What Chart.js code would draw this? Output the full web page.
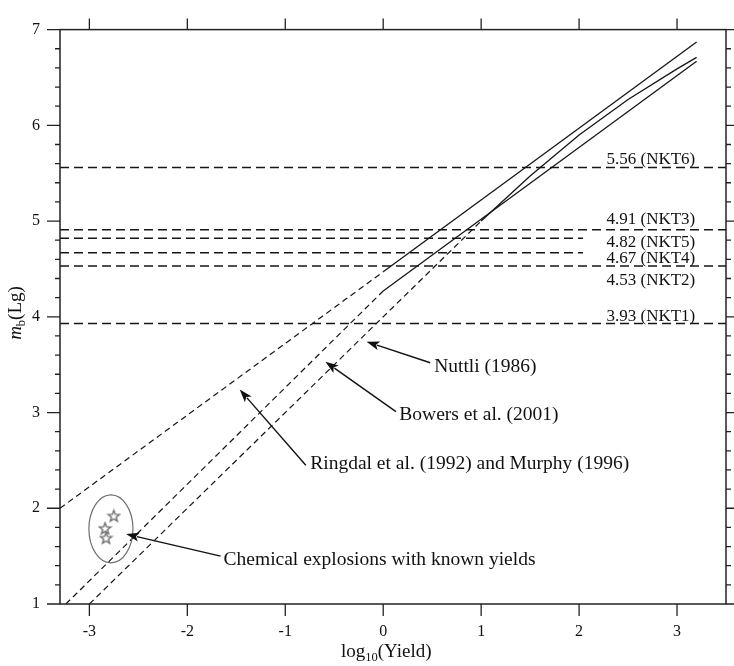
<!DOCTYPE html>
<html>
<head>
<meta charset="utf-8">
<script src="https://cdn.jsdelivr.net/npm/chart.js@4.4.0/dist/chart.umd.min.js"></script>
<style>
  html, body { margin: 0; padding: 0; background: #fff; }
</style>
</head>
<body>
<canvas id="yield-chart" width="734" height="666"></canvas>
<script>
// x = log10(Yield), y = mb(Lg)
var ringdalDashX = [-3.3, 0];
var ringdalDashY = [2.0, 4.47];
var ringdalX = [0, 3.2];
var ringdalY = [4.47, 6.87];

var bowersDashX = [-3.24, 0];
var bowersDashY = [1.0, 4.27];
var bowersX = [0, 3.2];
var bowersY = [4.27, 6.67];

var nuttliDashX = [-3.0, 1.0];
var nuttliDashY = [1.0, 5.0];
var nuttliX = [1.0, 1.5, 2.0, 2.5, 3.0, 3.2];
var nuttliY = [5.0, 5.47, 5.90, 6.27, 6.59, 6.71];

// NKT test magnitudes
var nktLevels = [5.56, 4.91, 4.82, 4.67, 4.53, 3.93];
var nktNames = ['NKT6', 'NKT3', 'NKT5', 'NKT4', 'NKT2', 'NKT1'];
var nktEnds = [3.5, 3.5, 2.04, 2.04, 3.5, 3.5];

// chemical explosions
var chemX = [-2.75, -2.84, -2.83];
var chemY = [1.92, 1.79, 1.69];

var xTicks = [-3, -2, -1, 0, 1, 2, 3];
var yTicks = [1, 2, 3, 4, 5, 6, 7];

// layout bits (not data)
var nktBaseShift = [-3.5, -6, 9, 10, 19, -3];
var notes = [
  {text: 'Nuttli (1986)', tail: [0.48, 3.52], tip: [-0.17, 3.74], at: [0.52, 3.48]},
  {text: 'Bowers et al. (2001)', tail: [0.13, 3.01], tip: [-0.59, 3.53], at: [0.165, 2.98]},
  {text: 'Ringdal et al. (1992) and Murphy (1996)', tail: [-0.79, 2.45], tip: [-1.465, 3.24], at: [-0.745, 2.46]},
  {text: 'Chemical explosions with known yields', tail: [-1.66, 1.50], tip: [-2.625, 1.73], at: [-1.63, 1.46]}
];

var serif = '"Liberation Serif", "Times New Roman", serif';

function pts(xs, ys) {
  return xs.map(function(x, i) { return {x: x, y: ys[i]}; });
}

function makeStar() {
  var c = document.createElement('canvas');
  c.width = 15; c.height = 15;
  var g = c.getContext('2d');
  g.strokeStyle = '#666';
  g.lineWidth = 1.3;
  g.beginPath();
  for (var k = 0; k < 10; k++) {
    var r = k % 2 === 0 ? 6 : 2.5;
    var a = -Math.PI / 2 + k * Math.PI / 5;
    var px = 7.5 + r * Math.cos(a), py = 8 + r * Math.sin(a);
    if (k === 0) g.moveTo(px, py); else g.lineTo(px, py);
  }
  g.closePath();
  g.stroke();
  return c;
}

var datasets = [];
function addLine(xs, ys, dash, width) {
  datasets.push({
    type: 'line',
    data: pts(xs, ys),
    borderColor: '#161616',
    borderWidth: width,
    borderDash: dash,
    pointRadius: 0,
    fill: false,
    tension: 0
  });
}

nktLevels.forEach(function(v, i) {
  addLine([-3.3, nktEnds[i]], [v, v], [9, 5], 1.5);
});
addLine(ringdalDashX, ringdalDashY, [6, 4], 1.2);
addLine(ringdalX, ringdalY, [], 1.3);
addLine(bowersDashX, bowersDashY, [6, 4], 1.2);
addLine(bowersX, bowersY, [], 1.3);
addLine(nuttliDashX, nuttliDashY, [6, 4], 1.2);
addLine(nuttliX, nuttliY, [], 1.3);

datasets.push({
  type: 'scatter',
  data: pts(chemX, chemY),
  pointStyle: makeStar(),
  pointRadius: 7
});

function arrow(ctx, x0, y0, x1, y1) {
  var ang = Math.atan2(y1 - y0, x1 - x0);
  var hl = 13, hw = 4.5;
  var bx = x1 - hl * Math.cos(ang), by = y1 - hl * Math.sin(ang);
  ctx.beginPath();
  ctx.moveTo(x0, y0);
  ctx.lineTo(bx + 2 * Math.cos(ang), by + 2 * Math.sin(ang));
  ctx.stroke();
  ctx.beginPath();
  ctx.moveTo(x1, y1);
  ctx.lineTo(bx + hw * Math.sin(ang), by - hw * Math.cos(ang));
  ctx.lineTo(bx + 3 * Math.cos(ang), by + 3 * Math.sin(ang));
  ctx.lineTo(bx - hw * Math.sin(ang), by + hw * Math.cos(ang));
  ctx.closePath();
  ctx.fill();
}

var decorations = {
  id: 'decorations',
  afterDatasetsDraw: function(chart) {
    var ctx = chart.ctx;
    var a = chart.chartArea;
    var xs = chart.scales.x, ys = chart.scales.y;
    ctx.save();

    // frame and tick marks
    ctx.strokeStyle = '#222';
    ctx.lineWidth = 1.5;
    ctx.strokeRect(a.left, a.top, a.right - a.left, a.bottom - a.top);
    ctx.lineWidth = 1.3;
    ctx.beginPath();
    xTicks.forEach(function(v) {
      var px = xs.getPixelForValue(v);
      ctx.moveTo(px, a.bottom); ctx.lineTo(px, a.bottom + 12);
      ctx.moveTo(px, a.top); ctx.lineTo(px, a.top - 11);
    });
    for (var i = 0; i <= 30; i++) {
      var py = ys.getPixelForValue(1 + i * 0.2);
      var len = i % 5 === 0 ? 13 : 5;
      ctx.moveTo(a.left, py); ctx.lineTo(a.left - len, py);
      ctx.moveTo(a.right, py); ctx.lineTo(a.right + len, py);
    }
    ctx.stroke();

    // ellipse round the chemical shots
    var cx = xs.getPixelForValue(-2.78), cy = ys.getPixelForValue(1.785);
    var rx = xs.getPixelForValue(-2.555) - cx;
    var ry = cy - ys.getPixelForValue(2.14);
    ctx.strokeStyle = '#707070';
    ctx.lineWidth = 1.2;
    ctx.beginPath();
    ctx.ellipse(cx, cy, rx, ry, 0, 0, Math.PI * 2);
    ctx.stroke();

    // NKT labels
    ctx.fillStyle = '#111';
    ctx.font = '17px ' + serif;
    ctx.textAlign = 'left';
    ctx.textBaseline = 'alphabetic';
    nktLevels.forEach(function(v, i) {
      ctx.fillText(v.toFixed(2) + ' (' + nktNames[i] + ')',
        xs.getPixelForValue(2.28), ys.getPixelForValue(v) + nktBaseShift[i]);
    });

    // arrows and notes
    ctx.strokeStyle = '#111';
    ctx.lineWidth = 1.4;
    ctx.font = '19.5px ' + serif;
    ctx.textBaseline = 'middle';
    notes.forEach(function(n) {
      arrow(ctx, xs.getPixelForValue(n.tail[0]), ys.getPixelForValue(n.tail[1]),
        xs.getPixelForValue(n.tip[0]), ys.getPixelForValue(n.tip[1]));
      ctx.fillText(n.text, xs.getPixelForValue(n.at[0]), ys.getPixelForValue(n.at[1]));
    });

    // x title: log10(Yield)
    ctx.textBaseline = 'alphabetic';
    var big = '19px ' + serif, small = '12.5px ' + serif;
    ctx.font = big; var w1 = ctx.measureText('log').width;
    var w3 = ctx.measureText('(Yield)').width;
    ctx.font = small; var w2 = ctx.measureText('10').width;
    var x0 = xs.getPixelForValue(0) + 3 - (w1 + w2 + w3) / 2;
    var base = 657;
    ctx.font = big; ctx.fillText('log', x0, base);
    ctx.font = small; ctx.fillText('10', x0 + w1, base + 4);
    ctx.font = big; ctx.fillText('(Yield)', x0 + w1 + w2, base);

    // y title: mb(Lg)
    ctx.translate(21, 313);
    ctx.rotate(-Math.PI / 2);
    var it = 'italic 19px ' + serif;
    ctx.font = it; var m1 = ctx.measureText('m').width;
    ctx.font = small; var m2 = ctx.measureText('b').width;
    ctx.font = big; var m3 = ctx.measureText('(Lg)').width;
    var s = -(m1 + m2 + m3) / 2;
    ctx.font = it; ctx.fillText('m', s, 0);
    ctx.font = small; ctx.fillText('b', s + m1, 4);
    ctx.font = big; ctx.fillText('(Lg)', s + m1 + m2, 0);

    ctx.restore();
  }
};

new Chart(document.getElementById('yield-chart'), {
  data: {datasets: datasets},
  options: {
    responsive: false,
    devicePixelRatio: 1,
    animation: false,
    layout: {padding: {left: 0, right: 4, top: 17, bottom: 0}},
    plugins: {legend: {display: false}, tooltip: {enabled: false}},
    scales: {
      x: {
        type: 'linear',
        min: -3.3,
        max: 3.5,
        grid: {display: false, drawTicks: false},
        border: {display: false},
        afterBuildTicks: function(s) { s.ticks = xTicks.map(function(v) { return {value: v}; }); },
        afterFit: function(s) { s.height = 62; },
        ticks: {autoSkip: false, padding: 18, color: '#111', font: {family: serif, size: 16}}
      },
      y: {
        type: 'linear',
        min: 1,
        max: 7,
        grid: {display: false, drawTicks: false},
        border: {display: false},
        afterBuildTicks: function(s) { s.ticks = yTicks.map(function(v) { return {value: v}; }); },
        afterFit: function(s) { s.width = 60; },
        ticks: {autoSkip: false, padding: 20, color: '#111', font: {family: serif, size: 16}}
      }
    }
  },
  plugins: [decorations]
});
</script>
</body>
</html>
